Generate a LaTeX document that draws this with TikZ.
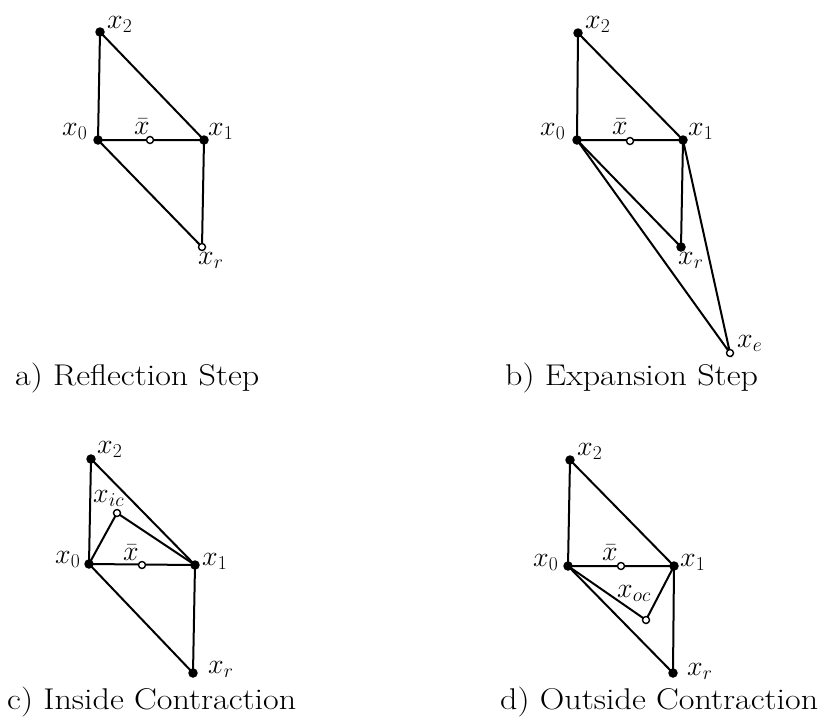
\RequirePackage{fix-cm}
\documentclass[tikz,border=0pt]{standalone}
\usepackage{graphicx}
\pgfdeclarelayer{bg}
\pgfsetlayers{bg,main}
\tikzset{
  fdot/.style={circle,fill=black,inner sep=0pt,minimum size=9.5pt},
  odot/.style={circle,draw=black,fill=white,line width=1.4pt,inner sep=0pt,minimum size=7pt},
  sline/.style={line width=2pt,line cap=round},
  lbl/.style={anchor=base west,inner sep=0pt,font=\fontsize{28}{32}\selectfont},
  capt/.style={anchor=base west,inner sep=0pt,font=\fontsize{30}{34}\selectfont}
}
\newcommand{\capstretch}[1]{\scalebox{1.135}[1]{#1}}
\begin{document}
\begin{tikzpicture}[x=1pt,y=-1pt]
\useasboundingbox (0,0) rectangle (821,718);
% ---------- a) Reflection ----------
\node[fdot] (a2) at (100,32) {};
\node[fdot] (a0) at (98,140) {};
\node[fdot] (a1) at (204,140) {};
\node[odot] (ab) at (150,140) {};
\node[odot] (ar) at (202,247) {};
\begin{pgfonlayer}{bg}
\draw[sline] (a2.center) -- (a0.center) -- (a1.center) -- (a2.center);
\draw[sline] (a0.center) -- (ar.center) -- (a1.center);
\end{pgfonlayer}
\node[lbl] (la2) at (107,28) {$x_2$};
\node[lbl] (la0) at (62,135) {$x_0$};
\node[lbl] (lab) at (134,134) {$\bar{x}$};
\node[lbl] (la1) at (208,135) {$x_1$};
\node[lbl] (lar) at (198,264) {$x_r$};
\node[capt] (ca) at (15,385) {\capstretch{a) Reflection Step}};
% ---------- b) Expansion ----------
\node[fdot] (b2) at (578,33) {};
\node[fdot] (b0) at (577,140) {};
\node[fdot] (b1) at (683,140) {};
\node[odot] (bb) at (630,141) {};
\node[fdot] (br) at (681,247) {};
\node[odot] (be) at (730,353) {};
\begin{pgfonlayer}{bg}
\draw[sline] (b2.center) -- (b0.center) -- (b1.center) -- (b2.center);
\draw[sline] (b0.center) -- (br.center) -- (b1.center);
\draw[sline] (b0.center) -- (be.center) -- (b1.center);
\end{pgfonlayer}
\node[lbl] (lb2) at (585,28) {$x_2$};
\node[lbl] (lb0) at (540,135) {$x_0$};
\node[lbl] (lbb) at (612,134) {$\bar{x}$};
\node[lbl] (lb1) at (688,135) {$x_1$};
\node[lbl] (lbr) at (678,264) {$x_r$};
\node[lbl] (lbe) at (737,347) {$x_e$};
\node[capt] (cb) at (505,385) {\capstretch{b) Expansion Step}};
% ---------- c) Inside contraction ----------
\node[fdot] (c2) at (91,459) {};
\node[fdot] (c0) at (89,564) {};
\node[fdot] (c1) at (195,565) {};
\node[odot] (cb) at (142,565) {};
\node[fdot] (cr) at (193,673) {};
\node[odot] (cic) at (117,513) {};
\begin{pgfonlayer}{bg}
\draw[sline] (c2.center) -- (c0.center) -- (c1.center) -- (c2.center);
\draw[sline] (c0.center) -- (cr.center) -- (c1.center);
\draw[sline] (c0.center) -- (cic.center) -- (c1.center);
\end{pgfonlayer}
\node[lbl] (lc2) at (97,453) {$x_2$};
\node[lbl] (lcic) at (93,502) {$x_{ic}$};
\node[lbl] (lc0) at (55,563) {$x_0$};
\node[lbl] (lcb) at (123,560) {$\bar{x}$};
\node[lbl] (lc1) at (202,565) {$x_1$};
\node[lbl] (lcr) at (208,673) {$x_r$};
\node[capt] (cc) at (7,709) {\capstretch{c) Inside Contraction}};
% ---------- d) Outside contraction ----------
\node[fdot] (d2) at (570,460) {};
\node[fdot] (d0) at (568,566) {};
\node[fdot] (d1) at (674,566) {};
\node[odot] (db) at (621,566) {};
\node[fdot] (dr) at (673,673) {};
\node[odot] (doc) at (646,620) {};
\begin{pgfonlayer}{bg}
\draw[sline] (d2.center) -- (d0.center) -- (d1.center) -- (d2.center);
\draw[sline] (d0.center) -- (dr.center) -- (d1.center);
\draw[sline] (d0.center) -- (doc.center) -- (d1.center);
\end{pgfonlayer}
\node[lbl] (ld2) at (577,455) {$x_2$};
\node[lbl] (ld0) at (533,566) {$x_0$};
\node[lbl] (ldb) at (602,560) {$\bar{x}$};
\node[lbl] (ld1) at (680,566) {$x_1$};
\node[lbl] (ldoc) at (617,597) {$x_{oc}$};
\node[lbl] (ldr) at (687,675) {$x_r$};
\node[capt] (cd) at (500,709) {\capstretch{d) Outside Contraction}};
\end{tikzpicture}
\end{document}
